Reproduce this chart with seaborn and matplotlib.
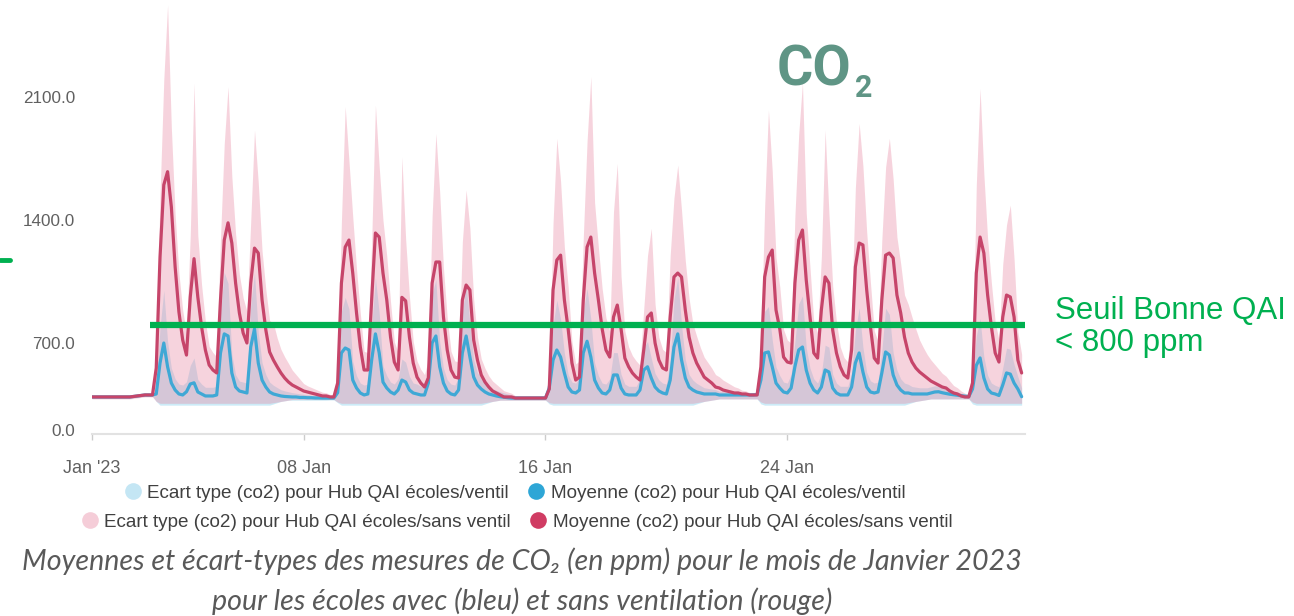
import numpy as np
import pandas as pd
import matplotlib
matplotlib.use("Agg")
import matplotlib.pyplot as plt
import seaborn as sns
from matplotlib.lines import Line2D

# CO2 (ppm) read every 3 hours, 1 Jan 2023 00:00 -> 31 Jan 2023 18:00
# one row = one day (00h 03h 06h 09h 12h 15h 18h 21h)

# schools without ventilation (red)
red_mean_days = [
    [266, 266, 266, 266, 266, 266, 266, 266],
    [266, 266, 266, 270, 274, 278, 282, 282],
    [282, 499, 1189, 1600, 1675, 1474, 1133, 877],
    [717, 603, 962, 1180, 962, 791, 644, 523],
    [483, 459, 945, 1286, 1384, 1269, 1041, 871],
    [757, 700, 1041, 1240, 1212, 945, 774, 628],
    [563, 509, 459, 418, 386, 362, 346, 330],
    [314, 306, 298, 290, 282, 274, 274, 266],
    [266, 378, 1041, 1246, 1286, 1098, 871, 668],
    [483, 483, 945, 1326, 1303, 1098, 945, 734],
    [547, 483, 960, 940, 734, 539, 426, 378],
    [346, 420, 1041, 1161, 1161, 848, 644, 483],
    [426, 418, 945, 1030, 1002, 717, 563, 443],
    [386, 346, 314, 298, 282, 266, 266, 266],
    [257, 257, 257, 257, 257, 257, 257, 257],
    [257, 330, 1002, 1172, 1200, 945, 780, 539],
    [402, 426, 945, 1246, 1303, 1098, 945, 780],
    [644, 587, 848, 916, 780, 579, 509, 459],
    [426, 402, 644, 848, 871, 700, 563, 499],
    [483, 848, 1076, 1098, 1076, 888, 734, 620],
    [539, 483, 426, 402, 378, 346, 338, 322],
    [314, 306, 298, 298, 290, 290, 282, 282],
    [282, 509, 1076, 1189, 1229, 888, 780, 587],
    [547, 539, 1041, 1286, 1343, 1059, 848, 620],
    [579, 888, 1076, 1041, 774, 620, 509, 443],
    [418, 644, 1133, 1269, 1258, 1002, 791, 579],
    [539, 945, 1200, 1212, 1184, 973, 871, 734],
    [620, 547, 499, 467, 443, 418, 394, 378],
    [362, 346, 338, 314, 298, 290, 274, 266],
    [266, 378, 1098, 1303, 1212, 973, 791, 620],
    [547, 848, 973, 962, 848, 563, 459],
]
red_std_days = [
    [15, 15, 15, 15, 15, 15, 15, 15],
    [15, 15, 15, 15, 15, 15, 15, 15],
    [15, 120, 350, 600, 949, 450, 300, 220],
    [170, 150, 350, 1000, 350, 240, 180, 150],
    [140, 130, 350, 550, 775, 380, 280, 220],
    [200, 180, 350, 672, 400, 280, 230, 200],
    [250, 220, 190, 170, 150, 120, 100, 80],
    [60, 50, 45, 40, 35, 30, 25, 20],
    [20, 100, 350, 800, 450, 320, 250, 200],
    [150, 140, 330, 728, 400, 300, 250, 200],
    [160, 140, 800, 350, 230, 170, 130, 110],
    [100, 150, 380, 732, 400, 280, 200, 150],
    [130, 130, 330, 541, 350, 230, 170, 130],
    [110, 90, 80, 70, 60, 50, 40, 30],
    [20, 20, 20, 20, 20, 20, 20, 20],
    [20, 120, 380, 693, 420, 300, 240, 170],
    [130, 130, 350, 600, 913, 400, 300, 230],
    [200, 180, 600, 806, 300, 190, 160, 140],
    [130, 120, 250, 350, 482, 220, 170, 150],
    [140, 350, 450, 615, 380, 280, 220, 190],
    [200, 180, 160, 140, 120, 100, 90, 80],
    [70, 60, 50, 40, 30, 25, 20, 20],
    [20, 180, 400, 837, 450, 300, 240, 190],
    [170, 160, 380, 600, 837, 380, 280, 200],
    [180, 300, 836, 400, 250, 200, 160, 140],
    [130, 230, 450, 681, 450, 330, 250, 190],
    [170, 340, 500, 653, 450, 330, 280, 240],
    [300, 300, 280, 250, 220, 190, 170, 150],
    [130, 110, 95, 80, 60, 50, 40, 30],
    [20, 130, 500, 846, 450, 320, 250, 200],
    [170, 300, 400, 523, 330, 200, 150],
]
red_low_days = [
    [250, 250, 250, 250, 250, 250, 250, 250],
    [250, 250, 250, 254, 258, 262, 266, 266],
    [266, 230, 215, 215, 215, 215, 215, 215],
    [215, 215, 215, 215, 215, 215, 215, 215],
    [215, 215, 215, 215, 215, 215, 215, 215],
    [215, 215, 215, 215, 215, 215, 215, 215],
    [220, 225, 230, 235, 240, 245, 245, 245],
    [245, 245, 245, 245, 245, 245, 245, 245],
    [245, 225, 215, 215, 215, 215, 215, 215],
    [215, 215, 215, 215, 215, 215, 215, 215],
    [215, 215, 215, 215, 215, 215, 215, 215],
    [215, 215, 215, 215, 215, 215, 215, 215],
    [215, 215, 215, 215, 215, 215, 215, 215],
    [220, 225, 230, 235, 240, 240, 240, 240],
    [240, 240, 240, 240, 240, 240, 240, 240],
    [240, 220, 215, 215, 215, 215, 215, 215],
    [215, 215, 215, 215, 215, 215, 215, 215],
    [215, 215, 215, 215, 215, 215, 215, 215],
    [215, 215, 215, 215, 215, 215, 215, 215],
    [215, 215, 215, 215, 215, 215, 215, 215],
    [220, 225, 230, 235, 240, 245, 250, 250],
    [250, 250, 250, 250, 250, 250, 250, 250],
    [250, 225, 215, 215, 215, 215, 215, 215],
    [215, 215, 215, 215, 215, 215, 215, 215],
    [215, 215, 215, 215, 215, 215, 215, 215],
    [215, 215, 215, 215, 215, 215, 215, 215],
    [215, 215, 215, 215, 215, 215, 215, 215],
    [220, 225, 230, 235, 240, 245, 250, 250],
    [250, 250, 250, 250, 250, 250, 250, 250],
    [250, 225, 215, 215, 215, 215, 215, 215],
    [215, 215, 215, 215, 215, 215, 215],
]

# schools with ventilation (blue)
blue_mean_days = [
    [266, 266, 266, 266, 266, 266, 266, 266],
    [266, 266, 266, 270, 274, 278, 282, 282],
    [282, 290, 539, 700, 509, 378, 322, 290],
    [282, 308, 370, 380, 306, 290, 274, 274],
    [274, 282, 620, 752, 740, 459, 346, 314],
    [306, 298, 668, 780, 539, 402, 346, 306],
    [290, 282, 274, 270, 268, 266, 266, 262],
    [262, 260, 260, 258, 258, 257, 257, 257],
    [257, 300, 620, 660, 644, 402, 338, 298],
    [282, 290, 563, 752, 620, 386, 338, 306],
    [290, 322, 402, 386, 322, 298, 290, 282],
    [282, 378, 700, 740, 509, 378, 314, 290],
    [282, 322, 620, 740, 587, 426, 362, 330],
    [306, 290, 282, 274, 268, 264, 260, 257],
    [257, 257, 257, 257, 257, 257, 257, 257],
    [257, 338, 563, 644, 587, 459, 346, 306],
    [298, 322, 620, 710, 587, 402, 338, 298],
    [290, 322, 443, 443, 338, 290, 282, 282],
    [282, 322, 483, 509, 418, 346, 314, 298],
    [290, 402, 668, 752, 563, 418, 346, 322],
    [306, 298, 290, 290, 290, 290, 282, 282],
    [282, 282, 282, 282, 282, 282, 282, 282],
    [285, 402, 620, 628, 509, 378, 338, 306],
    [298, 338, 509, 644, 668, 483, 378, 322],
    [298, 346, 483, 467, 338, 298, 282, 282],
    [282, 346, 539, 620, 467, 346, 306, 298],
    [306, 459, 628, 603, 443, 362, 322, 298],
    [298, 290, 290, 290, 290, 290, 298, 306],
    [308, 300, 294, 288, 284, 280, 276, 272],
    [268, 330, 520, 580, 420, 330, 298, 290],
    [278, 362, 459, 450, 378, 330, 268],
]
blue_std_days = [
    [10, 10, 10, 10, 10, 10, 10, 10],
    [10, 10, 10, 10, 10, 10, 10, 10],
    [10, 40, 250, 300, 200, 120, 90, 80],
    [80, 80, 150, 200, 100, 80, 70, 70],
    [70, 70, 250, 350, 300, 150, 100, 80],
    [80, 80, 250, 320, 220, 140, 100, 80],
    [70, 60, 50, 45, 40, 35, 30, 30],
    [25, 25, 20, 20, 20, 20, 15, 15],
    [15, 60, 260, 300, 250, 150, 100, 80],
    [80, 80, 230, 320, 250, 130, 100, 80],
    [80, 90, 170, 160, 110, 80, 80, 70],
    [70, 120, 280, 320, 200, 120, 90, 80],
    [80, 100, 250, 300, 220, 140, 100, 80],
    [70, 60, 50, 45, 40, 35, 30, 25],
    [20, 20, 20, 20, 20, 20, 20, 20],
    [20, 90, 240, 300, 250, 160, 100, 80],
    [80, 100, 260, 300, 250, 140, 100, 80],
    [80, 90, 180, 180, 110, 80, 70, 70],
    [70, 90, 180, 200, 160, 110, 90, 80],
    [80, 160, 280, 320, 240, 150, 100, 80],
    [70, 60, 50, 45, 40, 35, 30, 30],
    [25, 25, 20, 20, 20, 20, 20, 20],
    [20, 150, 260, 280, 210, 130, 100, 80],
    [80, 110, 200, 280, 300, 180, 120, 90],
    [80, 110, 200, 200, 110, 80, 70, 70],
    [70, 110, 230, 280, 200, 120, 90, 80],
    [80, 180, 270, 260, 180, 120, 90, 80],
    [70, 60, 55, 50, 50, 50, 50, 50],
    [45, 40, 35, 30, 25, 25, 20, 20],
    [20, 90, 220, 260, 170, 110, 80, 70],
    [70, 140, 200, 200, 150, 100, 70],
]
blue_low_days = [
    [256, 256, 256, 256, 256, 256, 256, 256],
    [256, 256, 256, 260, 264, 268, 272, 272],
    [272, 230, 200, 200, 200, 200, 200, 200],
    [200, 200, 200, 200, 200, 200, 200, 200],
    [200, 200, 200, 200, 200, 200, 200, 200],
    [200, 200, 200, 200, 200, 200, 200, 200],
    [210, 220, 230, 235, 240, 240, 240, 240],
    [240, 240, 240, 240, 240, 240, 240, 242],
    [242, 220, 200, 200, 200, 200, 200, 200],
    [200, 200, 200, 200, 200, 200, 200, 200],
    [200, 200, 200, 200, 200, 200, 200, 200],
    [200, 200, 200, 200, 200, 200, 200, 200],
    [200, 200, 200, 200, 200, 200, 200, 200],
    [210, 220, 230, 235, 240, 240, 240, 240],
    [240, 240, 240, 240, 240, 240, 240, 240],
    [240, 210, 200, 200, 200, 200, 200, 200],
    [200, 200, 200, 200, 200, 200, 200, 200],
    [200, 200, 200, 200, 200, 200, 200, 200],
    [200, 200, 200, 200, 200, 200, 200, 200],
    [200, 200, 200, 200, 200, 200, 200, 200],
    [210, 220, 230, 235, 240, 245, 250, 250],
    [250, 250, 250, 250, 250, 250, 250, 250],
    [250, 210, 200, 200, 200, 200, 200, 200],
    [200, 200, 200, 200, 200, 200, 200, 200],
    [200, 200, 200, 200, 200, 200, 200, 200],
    [200, 200, 200, 200, 200, 200, 200, 200],
    [200, 200, 200, 200, 200, 200, 200, 200],
    [210, 220, 230, 235, 240, 245, 250, 250],
    [250, 250, 250, 250, 250, 250, 250, 250],
    [250, 210, 200, 200, 200, 200, 200, 200],
    [200, 200, 200, 200, 200, 200, 200],
]

red_mean = np.array(sum(red_mean_days, []), dtype=float)
red_std = np.array(sum(red_std_days, []), dtype=float)
red_low = np.array(sum(red_low_days, []), dtype=float)
blue_mean = np.array(sum(blue_mean_days, []), dtype=float)
blue_std = np.array(sum(blue_std_days, []), dtype=float)
blue_low = np.array(sum(blue_low_days, []), dtype=float)
times = pd.date_range("2023-01-01", periods=len(red_mean), freq="3h")

tick_dates = pd.to_datetime(["2023-01-01", "2023-01-08", "2023-01-16", "2023-01-24"])
tick_labels = ["Jan '23", "08 Jan", "16 Jan", "24 Jan"]
y_ticks = [0, 700, 1400, 2100]
threshold = 800

legend_rows = [
    ["Ecart type (co2) pour Hub QAI écoles/ventil", "Moyenne (co2) pour Hub QAI écoles/ventil"],
    ["Ecart type (co2) pour Hub QAI écoles/sans ventil", "Moyenne (co2) pour Hub QAI écoles/sans ventil"],
]
legend_colors = [["#c4e6f4", "#2ea6d6"], ["#f5cdd8", "#d03c63"]]

blue_line = "#3fa8d5"
red_line = "#c6456a"
green = "#00b050"

sns.set_style("white")
plt.rcParams["font.family"] = ["Liberation Sans", "DejaVu Sans"]

W, H = 1294, 616
fig = plt.figure(figsize=(W / 100, H / 100), dpi=100)
ax = fig.add_axes([92 / W, 1 - 434 / H, (1025 - 92) / W, 434 / H])


# value axis is compressed below 700 in the original picture
def fwd(v):
    v = np.asarray(v, dtype=float)
    return np.where(v >= 700, v, 700 - (700 - v) * 87 / 123)


def inv(u):
    u = np.asarray(u, dtype=float)
    return np.where(u >= 700, u, 700 - (700 - u) * 123 / 87)


ax.set_yscale("function", functions=(fwd, inv))

# std bands
ax.fill_between(times, blue_low, blue_mean + blue_std, color="#8fd3ef", alpha=0.45, lw=0)
ax.fill_between(times, red_low, red_mean + red_std, color="#e8839e", alpha=0.35, lw=0)

# mean lines
df = pd.DataFrame({"time": times, "ventil": blue_mean, "sans ventil": red_mean})
long = df.melt(id_vars="time", var_name="groupe", value_name="co2")
sns.lineplot(data=long, x="time", y="co2", hue="groupe",
             hue_order=["ventil", "sans ventil"],
             palette={"ventil": blue_line, "sans ventil": red_line},
             linewidth=2.3, legend=False, ax=ax)

x_end = pd.Timestamp("2023-01-31 20:40")
ax.hlines(threshold, pd.Timestamp("2023-01-02 22:00"), x_end, color=green, lw=4.5, zorder=5)

ax.set_xlim(pd.Timestamp("2023-01-01"), x_end)
ax.set_ylim(-32, 2652)
ax.set_yticks(y_ticks)
ax.set_yticklabels([f"{v:.1f}" for v in y_ticks])
ax.set_xticks(tick_dates)
ax.set_xticklabels(tick_labels)
ax.set_xlabel("")
ax.set_ylabel("")
ax.tick_params(axis="y", length=0, pad=12, labelsize=12.3, labelcolor="#606060")
ax.tick_params(axis="x", length=4.3, width=1, color="#cccccc", pad=14.5,
               labelsize=13, labelcolor="#606060", bottom=True)
for s in ["top", "right", "left"]:
    ax.spines[s].set_visible(False)
ax.spines["bottom"].set_color("#e2e2e2")
ax.spines["bottom"].set_linewidth(1.5)

# legend, one centred row per group
for row, cols, yc, xc in zip(legend_rows, legend_colors, [493, 522], [515, 517]):
    handles = [Line2D([], [], marker="o", linestyle="", markersize=12,
                      markerfacecolor=c, markeredgecolor="none") for c in cols]
    fig.legend(handles, row, loc="center", bbox_to_anchor=(xc / W, 1 - yc / H),
               ncol=2, frameon=False, fontsize=13.6, handlelength=0.9,
               handletextpad=0.3, columnspacing=1.0, borderpad=0,
               labelcolor="#404040")

# titles and notes
fig.text(777 / W, 1 - 85 / H, "CO", fontsize=40, fontweight="bold",
         color="#5f9585", ha="left", va="baseline", family=["Roboto", "DejaVu Sans"])
fig.text(855 / W, 1 - 97 / H, "2", fontsize=22, fontweight="bold",
         color="#5f9585", ha="left", va="baseline", family=["Roboto", "DejaVu Sans"])
fig.text(1055 / W, 1 - 311 / H, "Seuil Bonne QAI", fontsize=22.5, color=green,
         ha="left", va="center")
fig.text(1055 / W, 1 - 343 / H, "< 800 ppm", fontsize=22.5, color=green,
         ha="left", va="center")

cap_font = ["Lato", "DejaVu Sans"]
fig.text(522 / W, 1 - 561 / H,
         "Moyennes et écart-types des mesures de CO₂ (en ppm) pour le mois de Janvier 2023",
         fontsize=20.6, style="italic", color="#595959", ha="center", va="center",
         family=cap_font)
fig.text(522 / W, 1 - 601 / H,
         "pour les écoles avec (bleu) et sans ventilation (rouge)",
         fontsize=20.6, style="italic", color="#595959", ha="center", va="center",
         family=cap_font)

# piece of the neighbouring chart cut at the left edge
fig.add_artist(Line2D([0, 10 / W], [1 - 260 / H] * 2, color=green, lw=3.5,
                      transform=fig.transFigure))

fig.savefig("out.png", dpi=100)
